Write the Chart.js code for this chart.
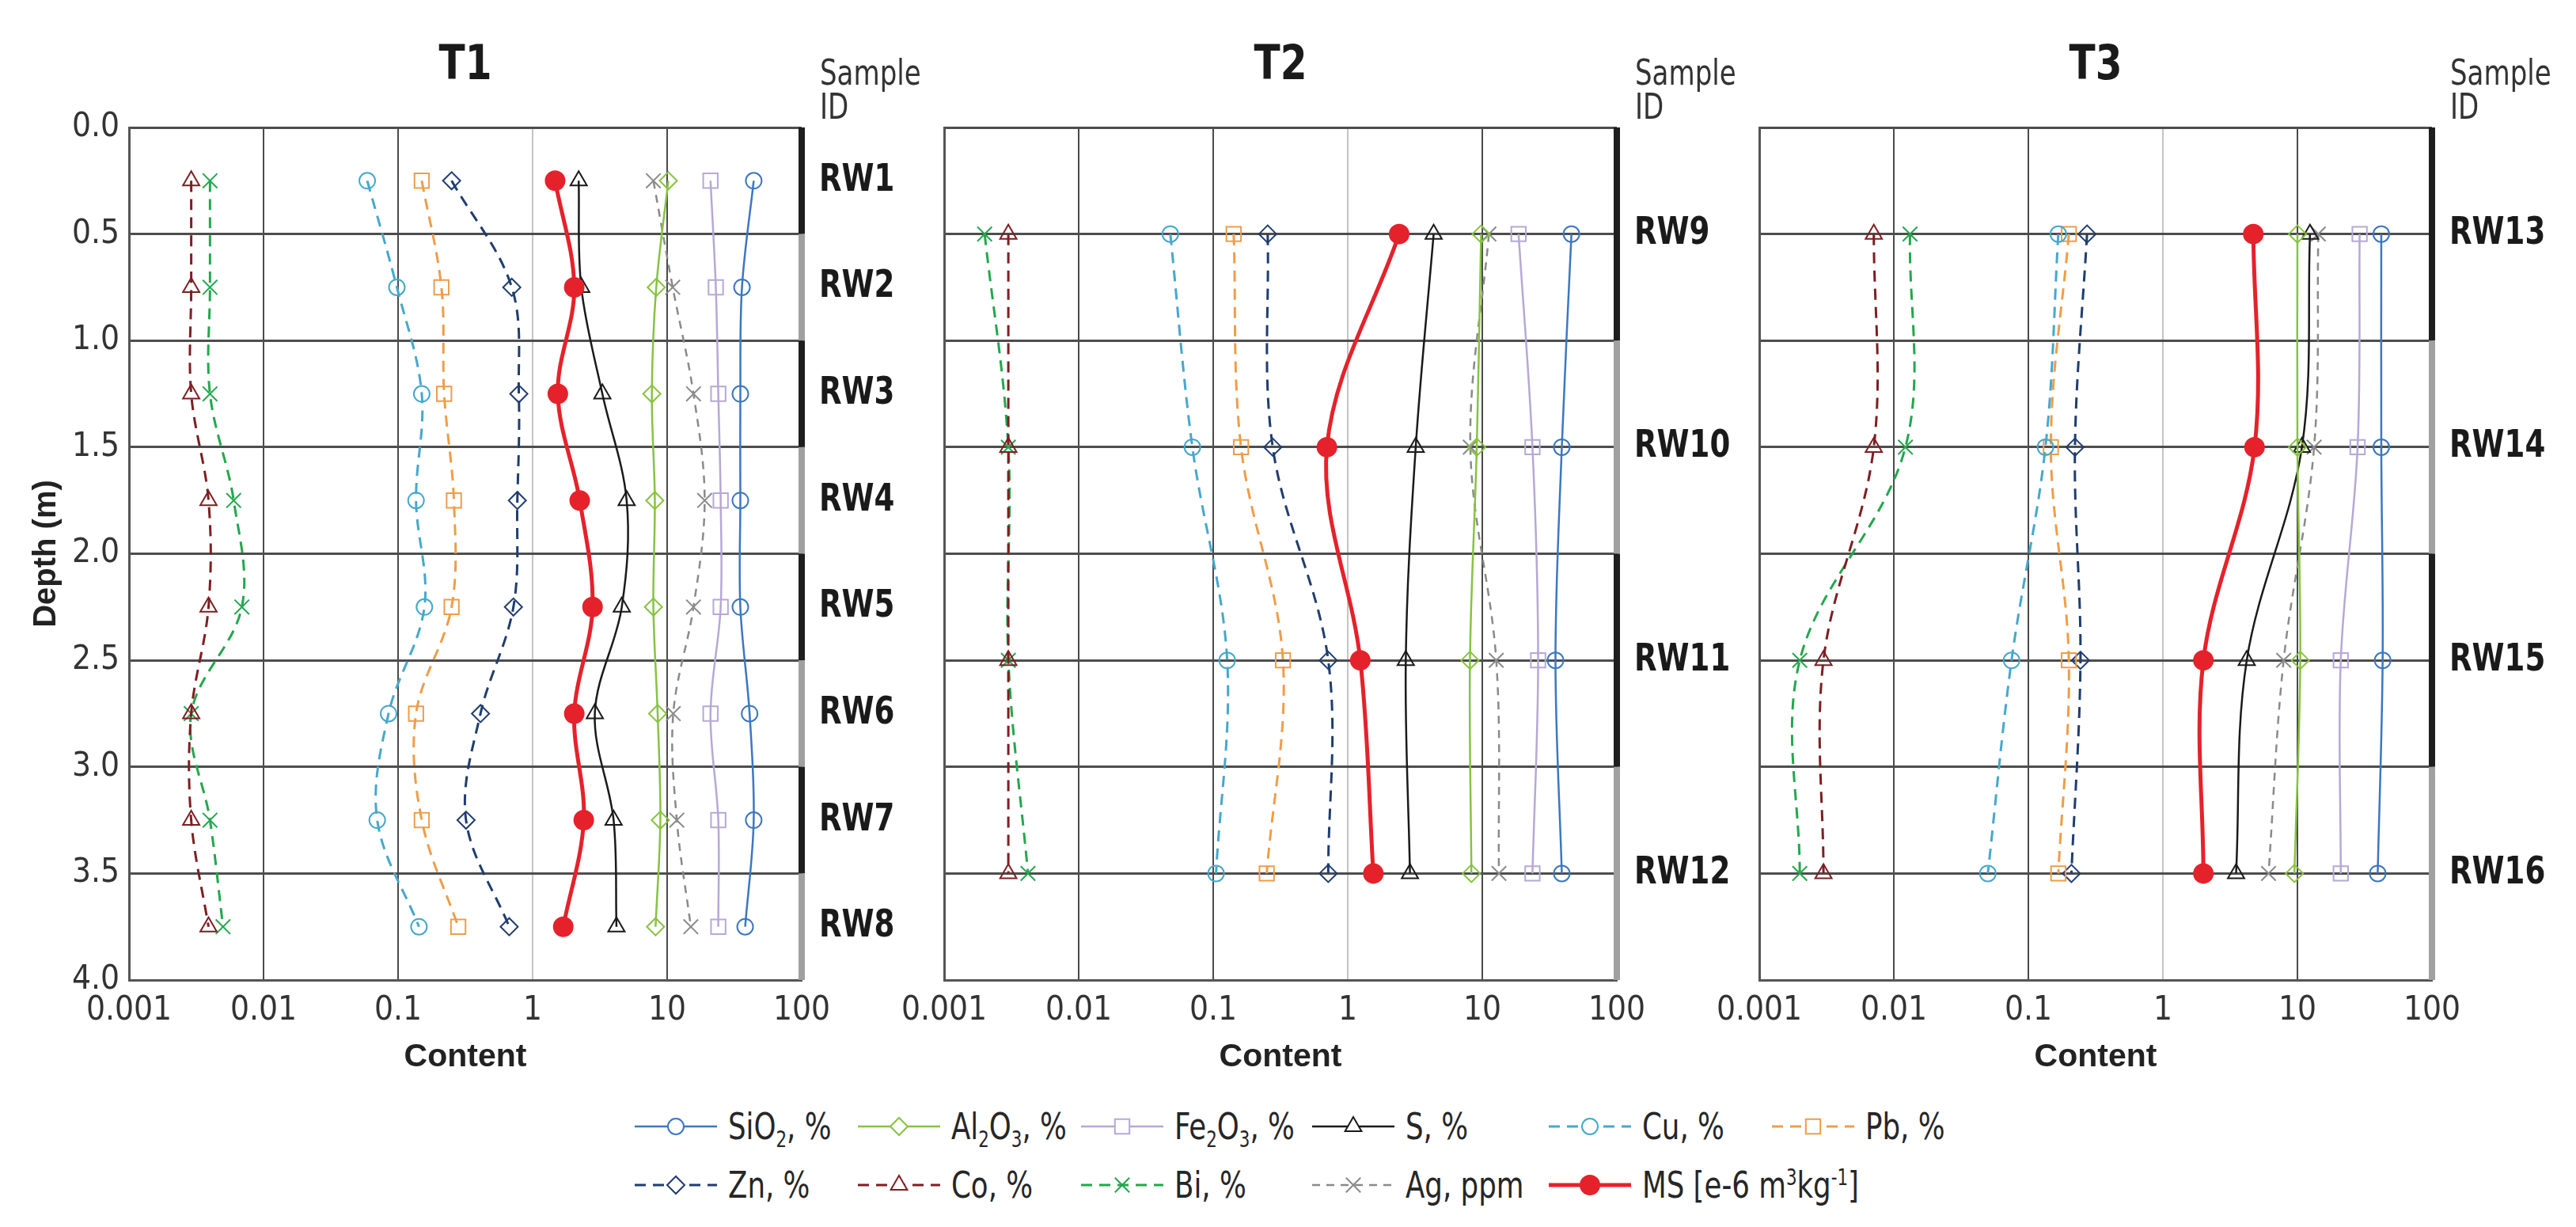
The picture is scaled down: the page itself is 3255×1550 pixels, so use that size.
<!DOCTYPE html>
<html>
<head>
<meta charset="utf-8">
<title>Depth profiles T1 - T3</title>
<script src="https://cdn.jsdelivr.net/npm/chart.js@4.4.1/dist/chart.umd.min.js"></script>
<style>
  html, body { margin: 0; padding: 0; background: #fff; }
  #page { position: relative; width: 3255px; height: 1550px; overflow: hidden; background: #fff; }
  #page canvas.panel { position: absolute; top: 0; }
  .leg { position: absolute; display: flex; align-items: center; height: 56px;
         font-family: 'Liberation Sans Narrow', 'Arial Narrow', 'DejaVu Sans Condensed', 'Liberation Sans', sans-serif;
         font-size: 46px; color: #262626; white-space: nowrap; }
  .leg canvas { margin-right: 14px; }
  .leg span { display: inline-block; transform: scaleX(0.86); transform-origin: left center; }
  .leg sub, .leg sup { font-size: 0.6em; line-height: 0; }
</style>
</head>
<body>
<div id="page">
  <canvas id="chartT1" class="panel" width="1183" height="1360" style="left:0px"></canvas>
  <canvas id="chartT2" class="panel" width="1183" height="1360" style="left:1030px"></canvas>
  <canvas id="chartT3" class="panel" width="1183" height="1360" style="left:2060px"></canvas>
  <div id="legend"></div>
</div>
<script>
// ---- data -------------------------------------------------------------
// sample depths (m) and sample IDs per trench
const depthT1 = [0.25, 0.75, 1.25, 1.75, 2.25, 2.75, 3.25, 3.75];
const idsT1 = ['RW1', 'RW2', 'RW3', 'RW4', 'RW5', 'RW6', 'RW7', 'RW8'];
const depthT2 = [0.5, 1.5, 2.5, 3.5];
const idsT2 = ['RW9', 'RW10', 'RW11', 'RW12'];
const depthT3 = [0.5, 1.5, 2.5, 3.5];
const idsT3 = ['RW13', 'RW14', 'RW15', 'RW16'];

// axis ticks
const contentTicks = [0.001, 0.01, 0.1, 1, 10, 100];
const contentTickLabels = ['0.001', '0.01', '0.1', '1', '10', '100'];
const depthTicks = [0, 0.5, 1, 1.5, 2, 2.5, 3, 3.5, 4];
const depthTickLabels = ['0.0', '0.5', '1.0', '1.5', '2.0', '2.5', '3.0', '3.5', '4.0'];

// T1
const sio2T1  = [44, 36, 35, 35, 35, 41, 44, 38];
const al2o3T1 = [10.2, 8.3, 7.7, 8.1, 7.9, 8.5, 8.9, 8.2];
const fe2o3T1 = [21, 23, 24, 25, 25, 21, 24, 24];
const sT1     = [2.2, 2.3, 3.3, 5.0, 4.6, 2.9, 4.0, 4.2];
const cuT1    = [0.059, 0.098, 0.15, 0.136, 0.157, 0.085, 0.07, 0.143];
const pbT1    = [0.15, 0.21, 0.22, 0.26, 0.25, 0.136, 0.15, 0.28];
const znT1    = [0.25, 0.7, 0.79, 0.77, 0.72, 0.41, 0.32, 0.67];
const coT1    = [0.0029, 0.0029, 0.0029, 0.0039, 0.0039, 0.0029, 0.0029, 0.0039];
const biT1    = [0.004, 0.004, 0.004, 0.006, 0.0069, 0.0029, 0.004, 0.005];
const agT1    = [7.9, 11, 15.7, 19, 15.7, 11.1, 11.8, 15];
const msT1    = [1.47, 2.04, 1.54, 2.24, 2.79, 2.04, 2.4, 1.69];

// T2
const sio2T2  = [46, 39, 35, 39];
const al2o3T2 = [9.8, 9.1, 8.1, 8.3];
const fe2o3T2 = [18.6, 23.6, 26, 23.6];
const sT2     = [4.35, 3.2, 2.7, 2.9];
const cuT2    = [0.048, 0.07, 0.127, 0.105];
const pbT2    = [0.142, 0.161, 0.33, 0.25];
const znT2    = [0.254, 0.277, 0.716, 0.716];
const coT2    = [0.003, 0.003, 0.003, 0.003];
const biT2    = [0.002, 0.003, 0.003, 0.0042];
const agT2    = [11.2, 8.15, 12.7, 13.3];
const msT2    = [2.41, 0.7, 1.24, 1.55];

// T3
const sio2T3  = [42, 42, 43, 39.5];
const al2o3T3 = [10, 10, 10.5, 9.5];
const fe2o3T3 = [29, 28, 21, 21];
const sT3     = [12.4, 10.8, 4.2, 3.5];
const cuT3    = [0.167, 0.134, 0.075, 0.05];
const pbT3    = [0.2, 0.147, 0.2, 0.167];
const znT3    = [0.273, 0.222, 0.244, 0.209];
const coT3    = [0.0071, 0.0071, 0.003, 0.003];
const biT3    = [0.0132, 0.0122, 0.002, 0.002];
const agT3    = [14.3, 13.3, 7.9, 6.1];
const msT3    = [4.7, 4.8, 2.0, 2.0];

// ---- styling ------------------------------------------------------------
const FONT_NARROW = "'Liberation Sans Narrow', 'Arial Narrow', 'DejaVu Sans Condensed', 'Liberation Sans', sans-serif";
const FONT_REG = "'Liberation Sans', Arial, sans-serif";
const DASH = [14, 9];

const seriesStyles = [
  { label: 'SiO<sub>2</sub>, %', color: '#3b77c1', width: 2.5, dash: [], point: 'circle', radius: 10 },
  { label: 'Al<sub>2</sub>O<sub>3</sub>, %', color: '#86c341', width: 2.5, dash: [], point: 'rectRot', radius: 11 },
  { label: 'Fe<sub>2</sub>O<sub>3</sub>, %', color: '#b6a8d6', width: 2.5, dash: [], point: 'rect', radius: 13 },
  { label: 'S, %', color: '#1a1a1a', width: 2.5, dash: [], point: 'triangle', radius: 12 },
  { label: 'Cu, %', color: '#45a8cd', width: 3, dash: DASH, point: 'circle', radius: 10 },
  { label: 'Pb, %', color: '#ef9d48', width: 3, dash: DASH, point: 'rect', radius: 13 },
  { label: 'Zn, %', color: '#1f3d70', width: 3, dash: DASH, point: 'rectRot', radius: 11 },
  { label: 'Co, %', color: '#7d1f22', width: 3, dash: DASH, point: 'triangle', radius: 12 },
  { label: 'Bi, %', color: '#22a84c', width: 3, dash: DASH, point: 'crossRot', radius: 13 },
  { label: 'Ag, ppm', color: '#8a8a8a', width: 2.5, dash: [10, 8], point: 'crossRot', radius: 13 },
  { label: 'MS [e-6 m<sup>3</sup>kg<sup>-1</sup>]', color: '#e5222b', width: 5, dash: [], point: 'circle', radius: 12, filled: true }
];

const panels = [
  { id: 'chartT1', title: 'T1', depths: depthT1, ids: idsT1, showDepth: true,
    values: [sio2T1, al2o3T1, fe2o3T1, sT1, cuT1, pbT1, znT1, coT1, biT1, agT1, msT1] },
  { id: 'chartT2', title: 'T2', depths: depthT2, ids: idsT2, showDepth: false,
    values: [sio2T2, al2o3T2, fe2o3T2, sT2, cuT2, pbT2, znT2, coT2, biT2, agT2, msT2] },
  { id: 'chartT3', title: 'T3', depths: depthT3, ids: idsT3, showDepth: false,
    values: [sio2T3, al2o3T3, fe2o3T3, sT3, cuT3, pbT3, znT3, coT3, biT3, agT3, msT3] }
];

// text squeezed horizontally, to get closer to the narrow face of the original
function narrowText(ctx, text, x, y, sx) {
    ctx.save();
    ctx.translate(x, y);
    ctx.scale(sx, 1);
    ctx.fillText(text, 0, 0);
    ctx.restore();
}

// Title, "Sample ID" header, sample labels and the interval bar on the right edge
function makeDecor(panel) {
    return {
        id: 'profileDecor',
        afterDraw(chart) {
            const { ctx, chartArea: a, scales: { y } } = chart;
            const d = panel.depths;
            const half = (d.length > 1 ? d[1] - d[0] : 1) / 2;
            ctx.save();
            d.forEach((v, i) => {
                const y0 = y.getPixelForValue(v - half);
                const y1 = y.getPixelForValue(v + half);
                ctx.fillStyle = i % 2 ? '#a0a0a0' : '#1e1e1e';
                ctx.fillRect(a.right - 4, y0, 8, y1 - y0);
            });

            ctx.fillStyle = '#1a1a1a';
            ctx.textAlign = 'left';
            ctx.textBaseline = 'middle';
            ctx.font = 'bold 48px ' + FONT_NARROW;
            panel.ids.forEach((id, i) => narrowText(ctx, id, a.right + 22, y.getPixelForValue(d[i]), 0.86));

            ctx.textAlign = 'center';
            ctx.font = 'bold 60px ' + FONT_NARROW;
            narrowText(ctx, panel.title, (a.left + a.right) / 2, 84, 0.9);

            ctx.textAlign = 'left';
            ctx.textBaseline = 'alphabetic';
            ctx.fillStyle = '#333';
            ctx.font = '44px ' + FONT_NARROW;
            narrowText(ctx, 'Sample', a.right + 23, 107, 0.86);
            narrowText(ctx, 'ID', a.right + 23, 150, 0.86);
            ctx.restore();
        }
    };
}

function buildDatasets(panel) {
    return seriesStyles.map((s, i) => ({
        label: s.label,
        data: panel.depths.map((dep, j) => ({ x: panel.values[i][j], y: dep })),
        borderColor: s.color,
        borderWidth: s.width,
        borderDash: s.dash,
        pointStyle: s.point,
        pointRadius: s.radius,
        pointBorderWidth: 2,
        pointBorderColor: s.color,
        pointBackgroundColor: s.filled ? s.color : 'rgba(0,0,0,0)',
        tension: 0.35,
        fill: false,
        order: s.filled ? 0 : 1
    }));
}

function initPanel(panel) {
    const canvas = document.getElementById(panel.id);
    if (!canvas) {
        console.warn(`Canvas "${panel.id}" not found.`);
        return;
    }
    new Chart(canvas.getContext('2d'), {
        type: 'line',
        data: { datasets: buildDatasets(panel) },
        options: {
            responsive: false,
            animation: false,
            devicePixelRatio: 1,
            layout: { padding: { top: 161, right: 170, left: 0, bottom: 0 } },
            plugins: { legend: { display: false }, tooltip: { enabled: false } },
            scales: {
                x: {
                    type: 'logarithmic',
                    position: 'bottom',
                    min: 0.001,
                    max: 100,
                    afterBuildTicks: s => { s.ticks = contentTicks.map(v => ({ value: v })); },
                    afterFit: s => { s.height = 122; },
                    ticks: {
                        autoSkip: false,
                        maxRotation: 0,
                        padding: 14,
                        color: '#333',
                        font: { family: FONT_NARROW, size: 42 },
                        callback: (v, i) => contentTickLabels[i]
                    },
                    grid: {
                        drawTicks: false,
                        lineWidth: 2,
                        color: c => (c.tick && c.tick.value === 1) ? '#c4c4c4' : '#4a4a4a'
                    },
                    border: { color: '#555', width: 3 },
                    title: {
                        display: true,
                        text: 'Content',
                        color: '#222',
                        padding: { top: 0, bottom: 0 },
                        font: { family: FONT_REG, size: 41, weight: 'bold' }
                    }
                },
                y: {
                    type: 'linear',
                    reverse: true,
                    min: 0,
                    max: 4,
                    afterBuildTicks: s => { s.ticks = depthTicks.map(v => ({ value: v })); },
                    afterFit: s => { s.width = 163; },
                    ticks: {
                        display: panel.showDepth,
                        padding: 12,
                        color: '#333',
                        font: { family: FONT_NARROW, size: 42 },
                        callback: (v, i) => depthTickLabels[i]
                    },
                    grid: { drawTicks: false, lineWidth: 3, color: '#4d4d4d' },
                    border: { color: '#555', width: 3 },
                    title: {
                        display: panel.showDepth,
                        text: 'Depth (m)',
                        color: '#222',
                        padding: { top: 35, bottom: 0 },
                        font: { family: FONT_REG, size: 40, weight: 'bold' }
                    }
                }
            }
        },
        plugins: [makeDecor(panel)]
    });
}

// Legend: line sample plus marker drawn with Chart.js's own point helper
function buildLegend() {
    const legendCols = [802, 1084, 1366, 1658, 1957, 2239];
    const legendRows = [1423, 1497];
    const host = document.getElementById('legend');
    seriesStyles.forEach((s, i) => {
        const row = i < 6 ? 0 : 1;
        const col = i < 6 ? i : i - 6;
        const item = document.createElement('div');
        item.className = 'leg';
        item.style.left = legendCols[col] + 'px';
        item.style.top = (legendRows[row] - 28) + 'px';

        const c = document.createElement('canvas');
        c.width = 104;
        c.height = 40;
        const ctx = c.getContext('2d');
        ctx.strokeStyle = s.color;
        ctx.lineWidth = s.width;
        ctx.setLineDash(s.dash);
        ctx.beginPath();
        ctx.moveTo(0, 20);
        ctx.lineTo(104, 20);
        ctx.stroke();
        ctx.setLineDash([]);
        ctx.lineWidth = 2;
        ctx.fillStyle = s.filled ? s.color : '#fff';
        Chart.helpers.drawPoint(ctx, { pointStyle: s.point, radius: s.radius, rotation: 0, borderWidth: 2 }, 52, 20);

        const text = document.createElement('span');
        text.innerHTML = s.label;
        item.appendChild(c);
        item.appendChild(text);
        host.appendChild(item);
    });
}

panels.forEach(initPanel);
buildLegend();
</script>
</body>
</html>
